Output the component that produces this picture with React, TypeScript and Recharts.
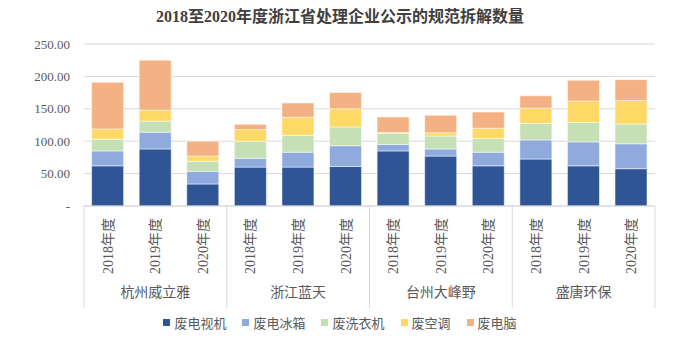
import React from 'react';
import { BarChart, Bar, XAxis, YAxis, CartesianGrid, Legend } from 'recharts';

const companies = ['杭州威立雅', '浙江蓝天', '台州大峰野', '盛唐环保'];
const years = ['2018年度', '2019年度', '2020年度'];

// 每个企业三年，顺序与 companies × years 一致
const tvValues = [62, 88, 34, 60, 60, 61, 85, 77, 62, 72.5, 62, 57.6];
const fridgeValues = [23, 26, 19.5, 13.5, 23, 32, 10, 11, 21, 29.5, 37, 38.4];
const washerValues = [18, 17, 15.5, 26.5, 26, 29, 17, 20, 21, 25.5, 30, 30.5];
const acValues = [16, 17, 8, 18, 28, 28, 1.5, 5, 16, 23.5, 33, 36.5];
const pcValues = [72, 77, 23, 8, 22, 25, 24, 27, 25, 19, 32, 32];

const yTicks = [0, 50, 100, 150, 200, 250];

const series = [
  { key: 'tv', name: '废电视机', color: '#2F5597', values: tvValues },
  { key: 'fridge', name: '废电冰箱', color: '#8FAADC', values: fridgeValues },
  { key: 'washer', name: '废洗衣机', color: '#C5E0B4', values: washerValues },
  { key: 'ac', name: '废空调', color: '#FFD966', values: acValues },
  { key: 'pc', name: '废电脑', color: '#F4B183', values: pcValues },
];

const data = companies.flatMap((company, ci) =>
  years.map((year, yi) => {
    const i = ci * years.length + yi;
    const row: Record<string, string | number> = { id: `${company}-${year}`, company, year };
    series.forEach((s) => {
      row[s.key] = s.values[i];
    });
    return row;
  })
);

const FONT = '"Liberation Serif", "Noto Sans CJK SC", serif';
const TEXT = '#595959';

function YearTick(props: any) {
  const { x, y, payload, index } = props;
  const half = payload.offset ?? 0;
  const row = data[index];
  const pos = index % years.length;
  return (
    <g>
      {pos === 0 && (
        <line x1={x - half} y1={y - 8} x2={x - half} y2={y + 94} stroke="#d9d9d9" />
      )}
      {index === data.length - 1 && (
        <line x1={x + half} y1={y - 8} x2={x + half} y2={y + 94} stroke="#d9d9d9" />
      )}
      <text
        transform={`translate(${x},${y + 4}) rotate(-90)`}
        textAnchor="end"
        dy="0.35em"
        fontSize={14}
        fill={TEXT}
        fontFamily={FONT}
      >
        {row.year as string}
      </text>
      {pos === 1 && (
        <text x={x} y={y + 83} textAnchor="middle" fontSize={14} fill={TEXT} fontFamily={FONT}>
          {row.company as string}
        </text>
      )}
    </g>
  );
}

function LegendContent() {
  return (
    <div style={{ display: 'flex', justifyContent: 'center', gap: 16, fontFamily: FONT, fontSize: 13, color: TEXT }}>
      {series.map((s) => (
        <div key={s.key} style={{ display: 'flex', alignItems: 'center' }}>
          <span style={{ width: 7, height: 7, background: s.color, display: 'inline-block', marginRight: 4 }} />
          <span>{s.name}</span>
        </div>
      ))}
    </div>
  );
}

export default function App() {
  return (
    <div style={{ position: 'absolute', left: 0, top: 0, width: 693, height: 353, background: '#fff' }}>
      <div
        style={{
          position: 'absolute',
          top: 3,
          left: 0,
          width: 680,
          textAlign: 'center',
          fontFamily: FONT,
          fontWeight: 'bold',
          fontSize: 16,
          color: '#404040',
        }}
      >
        2018至2020年度浙江省处理企业公示的规范拆解数量
      </div>
      <BarChart
        width={693}
        height={353}
        data={data}
        margin={{ top: 44, right: 38, bottom: 53, left: 0 }}
        barCategoryGap="16%"
      >
        <CartesianGrid vertical={false} stroke="#d9d9d9" />
        <XAxis
          dataKey="id"
          interval={0}
          height={94}
          axisLine={{ stroke: '#d9d9d9' }}
          tickLine={false}
          tick={<YearTick />}
        />
        <YAxis
          width={84}
          domain={[0, 250]}
          ticks={yTicks}
          axisLine={false}
          tickLine={false}
          tickMargin={8}
          tick={{ fontSize: 13, fill: TEXT, fontFamily: FONT }}
          tickFormatter={(v: number) => (v === 0 ? '-' : v.toFixed(2))}
        />
        <Legend
          verticalAlign="middle"
          align="center"
          wrapperStyle={{ top: 313, left: 0, width: 680 }}
          content={<LegendContent />}
        />
        {series.map((s) => (
          <Bar
            key={s.key}
            dataKey={s.key}
            name={s.name}
            stackId="a"
            fill={s.color}
            stroke="#fff"
            strokeWidth={0.5}
            isAnimationActive={false}
          />
        ))}
      </BarChart>
    </div>
  );
}
